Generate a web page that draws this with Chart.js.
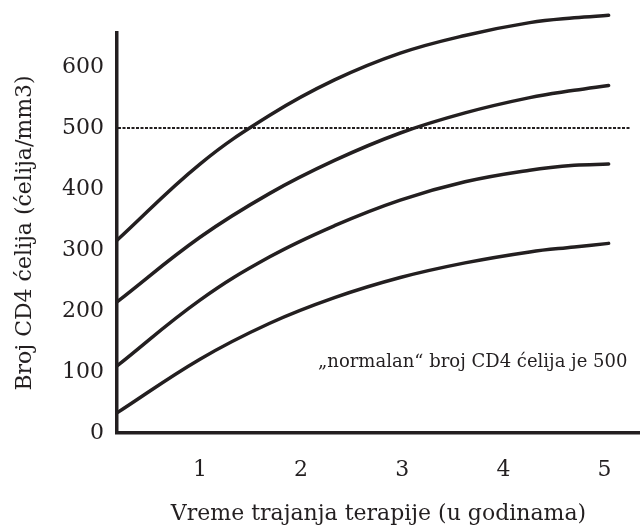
<!DOCTYPE html>
<html>
<head>
<meta charset="utf-8">
<script src="https://cdn.jsdelivr.net/npm/chart.js@4/dist/chart.umd.min.js"></script>
<style>
    html, body { margin: 0; padding: 0; background: #fff; }
    #wrap { width: 640px; height: 527px; }
</style>
</head>
<body>
<div id="wrap"><canvas id="grafikCD4"></canvas></div>
<script>
// godine terapije (tačke očitane sa krivih)
const godine = [0.18, 1.0, 1.69, 2.33, 2.98, 3.62, 4.26, 4.70, 5.04];
const kriva1 = [316, 441, 521, 579, 623, 652, 673, 681, 685];
const kriva2 = [215, 321, 393, 447, 492, 525, 550, 562, 570];
const kriva3 = [110, 218, 289, 340, 382, 412, 431, 439, 441];
const kriva4 = [33, 121, 180, 222, 255, 279, 297, 305, 311];

// "normalan" broj CD4 ćelija
const normalanBroj = 500;
const normalanOd = 0.19;
const normalanDo = 5.25;

const xTicks = [1, 2, 3, 4, 5];
const yTicks = [0, 100, 200, 300, 400, 500, 600];

const naslovX = 'Vreme trajanja terapije (u godinama)';
const naslovY = 'Broj CD4 ćelija (ćelija/mm3)';
const napomena = '„normalan“ broj CD4 ćelija je 500';

const boja = '#231f20';
const font = 'DejaVu Serif';

function tacke(vrednosti) {
    return godine.map((g, i) => ({ x: g, y: vrednosti[i] }));
}

const krive = [kriva1, kriva2, kriva3, kriva4].map(v => ({
    data: tacke(v),
    borderColor: boja,
    borderWidth: 3.5,
    borderCapStyle: 'round',
    pointRadius: 0,
    fill: false,
    tension: 0.4,
    clip: false
}));

const linijaNormale = {
    data: [{ x: normalanOd, y: normalanBroj }, { x: normalanDo, y: normalanBroj }],
    borderColor: boja,
    borderWidth: 2,
    borderDash: [3, 1.5],
    pointRadius: 0,
    fill: false,
    clip: false
};

const napomenaPlugin = {
    id: 'napomena',
    afterDatasetsDraw(chart) {
        const ctx = chart.ctx;
        ctx.save();
        ctx.fillStyle = boja;
        ctx.font = '18px "' + font + '"';
        ctx.textAlign = 'left';
        ctx.textBaseline = 'alphabetic';
        ctx.fillText(napomena, 318, 367);
        ctx.restore();
    }
};

new Chart(document.getElementById('grafikCD4'), {
    type: 'line',
    data: { datasets: [...krive, linijaNormale] },
    options: {
        responsive: true,
        maintainAspectRatio: false,
        animation: false,
        layout: { padding: { top: 33, left: 0, right: 0, bottom: 0 } },
        plugins: {
            legend: { display: false },
            tooltip: { enabled: false }
        },
        scales: {
            x: {
                type: 'linear',
                min: 0.18,
                max: 5.35,
                afterBuildTicks: axis => { axis.ticks = xTicks.map(v => ({ value: v })); },
                afterFit: scale => { scale.height = 94; },
                grid: { display: false, drawTicks: false },
                border: { display: true, color: boja, width: 3.5 },
                ticks: { color: boja, font: { family: font, size: 22 }, padding: 24 },
                title: {
                    display: true, text: naslovX, color: boja,
                    font: { family: font, size: 22 }, padding: { top: 0, bottom: 0 }
                }
            },
            y: {
                type: 'linear',
                min: 0,
                max: 656,
                afterBuildTicks: axis => { axis.ticks = yTicks.map(v => ({ value: v })); },
                afterFit: scale => { scale.width = 117; },
                grid: { display: false, drawTicks: false },
                border: { display: true, color: boja, width: 3.5 },
                ticks: { color: boja, font: { family: font, size: 22 }, padding: 13 },
                title: {
                    display: true, text: naslovY, color: boja,
                    font: { family: font, size: 22 }, padding: { top: 12, bottom: 0 }
                }
            }
        }
    },
    plugins: [napomenaPlugin]
});
</script>
</body>
</html>
